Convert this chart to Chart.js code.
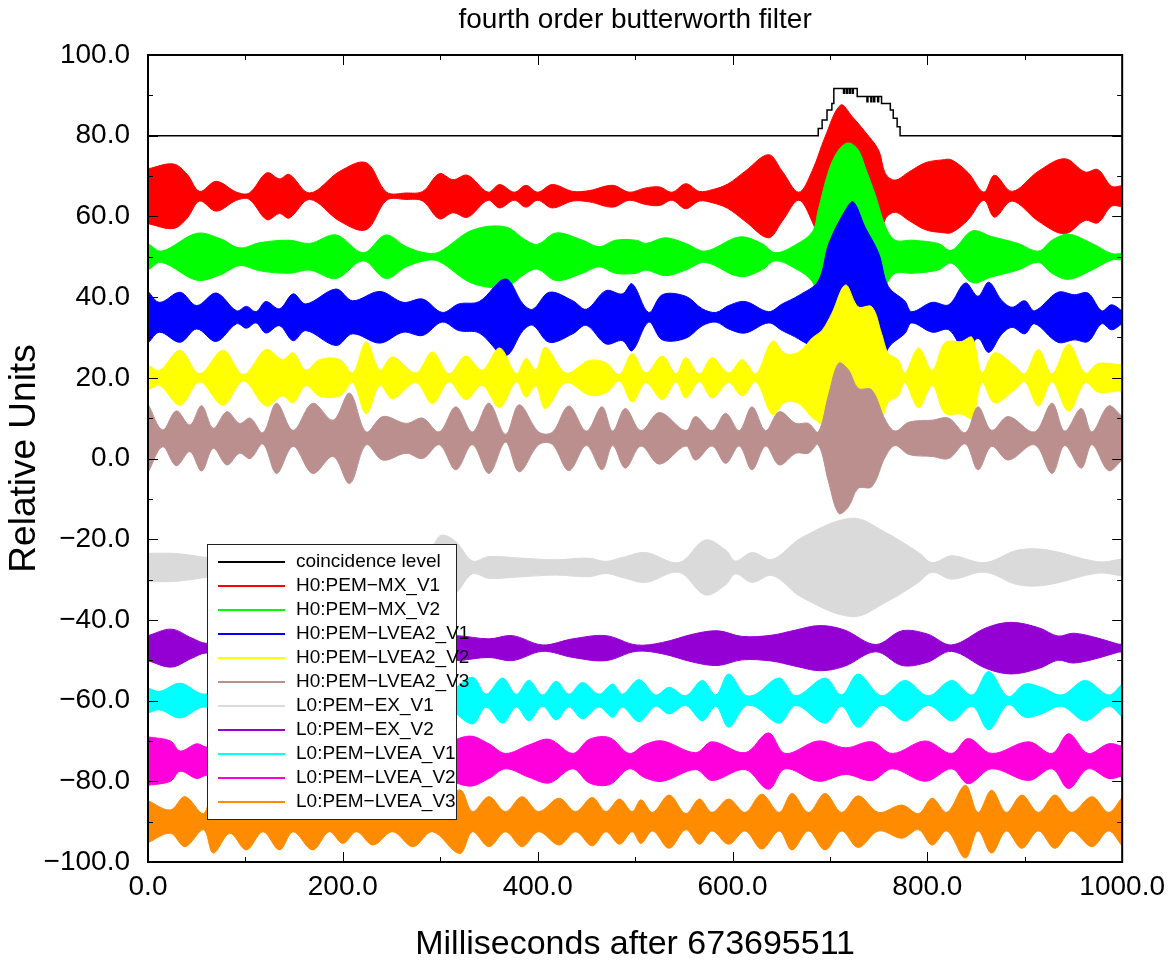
<!DOCTYPE html>
<html>
<head>
<meta charset="utf-8">
<title>fourth order butterworth filter</title>
<script src="https://cdn.jsdelivr.net/npm/chart.js"></script>
<style>
  body { margin: 0; background: #fff; }
  #chart-box { width: 1173px; height: 968px; }
</style>
</head>
<body>
<div id="chart-box"><canvas id="chart" width="1173" height="968"></canvas></div>
<script>
// channels, in legend order
const channelNames = [
  'H0:PEM\u2212MX_V1', 'H0:PEM\u2212MX_V2', 'H0:PEM\u2212LVEA2_V1', 'H0:PEM\u2212LVEA2_V2', 'H0:PEM\u2212LVEA2_V3',
  'L0:PEM\u2212EX_V1', 'L0:PEM\u2212EX_V2', 'L0:PEM\u2212LVEA_V1', 'L0:PEM\u2212LVEA_V2', 'L0:PEM\u2212LVEA_V3'
];
// each trace is shifted to its own baseline (relative units)
const channelOffsets = [65, 50, 35, 20, 5, -27, -47, -60, -75, -90];

// envelope half-width of each trace: [ms, relative units]
const h0MxV1 = [[0,6.8],[26,8.0],[40,5.5],[53,1.2],[70,3.7],[91,1.0],[104,0.8],[122,5.8],[135,4.3],[145,5.4],[166,0.8],[197,6.2],[224,8.3],[245,1.0],[265,0.8],[282,1.2],[299,5.6],[313,4.1],[328,5.2],[349,1.0],[361,2.9],[376,1.0],[388,2.7],[400,1.0],[415,2.9],[436,1.2],[453,1.4],[477,2.7],[494,1.0],[510,2.0],[525,2.3],[538,1.0],[552,3.1],[566,1.2],[579,1.6],[595,3.0],[613,6.2],[637,10.3],[651,6.2],[668,1.0],[682,6.4],[695,14.7],[711,22.6],[723,19.7],[736,16.0],[750,11.4],[757,5.6],[767,4.0],[781,6.0],[798,8.3],[815,9.0],[825,9.0],[842,5.8],[858,1.0],[869,5.2],[887,1.2],[914,6.2],[941,9.3],[962,6.0],[975,6.6],[989,2.5],[1000,2.6]];
const h0MxV2 = [[0,3.3],[14,1.4],[50,5.8],[74,4.5],[94,2.2],[115,3.5],[145,4.1],[166,3.3],[193,5.4],[221,1.0],[244,5.4],[265,2.5],[286,0.9],[299,1.2],[333,6.6],[367,7.4],[388,4.1],[400,3.1],[419,5.9],[446,4.1],[463,2.5],[480,4.1],[501,4.1],[511,3.3],[531,4.7],[552,3.3],[572,1.4],[607,4.9],[630,3.3],[644,1.0],[665,3.0],[682,6.2],[688,11.6],[699,21.5],[709,26.5],[719,28.2],[729,26.5],[736,22.3],[747,15.0],[757,7.5],[767,4.1],[784,4.1],[811,3.3],[825,1.6],[846,6.4],[866,5.0],[893,3.3],[914,1.4],[928,4.1],[945,5.6],[969,3.3],[989,0.8],[1000,0.8]];
const h0Lvea2V1 = [[0,6.4],[12,3.7],[33,6.2],[50,2.9],[70,6.0],[91,1.6],[101,2.7],[111,1.4],[121,3.9],[135,2.1],[149,5.8],[162,3.3],[193,7.0],[210,4.1],[238,6.4],[262,3.7],[282,4.5],[302,1.2],[319,3.3],[340,3.9],[367,9.5],[385,3.3],[395,2.0],[412,6.2],[436,4.1],[450,2.0],[470,6.6],[487,5.8],[497,8.3],[514,1.2],[528,5.6],[552,5.2],[569,2.1],[583,1.2],[596,2.9],[613,3.9],[637,1.4],[651,3.3],[668,5.4],[688,9.0],[699,18.4],[716,26.6],[724,28.6],[736,22.4],[750,15.9],[760,7.6],[777,4.0],[784,1.4],[805,3.7],[822,3.1],[839,8.5],[852,5.2],[863,8.7],[876,4.3],[887,2.5],[900,4.1],[910,1.6],[934,6.2],[951,5.6],[965,6.0],[979,1.6],[989,3.1],[1000,1.6]];
const h0Lvea2V2 = [[0,3.1],[12,1.9],[33,6.8],[53,1.0],[77,6.8],[98,0.8],[121,7.0],[138,4.5],[149,6.2],[162,1.9],[176,4.5],[197,4.5],[210,1.2],[224,8.9],[238,1.9],[251,5.2],[275,1.2],[292,6.4],[309,1.0],[326,5.4],[343,1.9],[361,7.4],[378,1.0],[388,4.8],[398,2.0],[408,7.6],[429,1.2],[453,4.3],[470,3.7],[484,0.8],[497,6.0],[511,1.2],[528,5.4],[542,1.0],[552,5.0],[566,0.9],[579,5.0],[596,1.2],[610,4.5],[624,1.0],[641,9.1],[654,6.0],[668,6.4],[682,9.9],[692,11.8],[702,16.0],[716,23.0],[729,17.6],[743,17.6],[753,11.0],[760,6.0],[770,4.5],[777,1.2],[791,7.4],[805,1.9],[818,8.7],[835,9.0],[846,10.0],[856,1.2],[869,6.2],[890,2.9],[900,1.0],[914,7.0],[928,1.0],[945,8.3],[962,1.2],[975,3.5],[996,3.3],[1000,3.3]];
const h0Lvea2V3 = [[0,8.5],[15,2.1],[29,6.8],[43,3.3],[55,8.1],[67,2.5],[81,6.6],[94,3.7],[105,5.0],[118,1.4],[132,8.7],[149,2.0],[169,8.7],[190,4.5],[207,11.2],[224,1.6],[241,5.4],[265,3.7],[282,5.0],[299,1.6],[316,7.8],[333,1.6],[350,8.7],[367,1.0],[381,8.3],[401,1.6],[415,1.5],[432,8.0],[450,1.8],[466,7.8],[477,1.8],[490,7.4],[506,1.9],[525,6.4],[552,1.9],[562,5.4],[579,1.9],[593,6.2],[607,1.9],[620,7.8],[634,1.9],[648,6.6],[665,3.7],[678,3.7],[688,1.6],[699,11.2],[709,18.6],[719,17.0],[729,12.4],[743,12.0],[757,4.5],[767,1.8],[781,4.0],[805,4.5],[822,5.0],[839,1.4],[852,7.8],[866,2.0],[883,5.4],[910,1.6],[928,8.7],[941,1.8],[958,7.4],[969,1.6],[986,8.0],[1000,5.4]];
const l0ExV1 = [[0,3.5],[26,3.5],[45,3.0],[60,2.5],[100,3.0],[150,2.5],[200,3.0],[250,2.5],[290,5.0],[301,8.0],[316,6.4],[333,1.6],[350,2.7],[384,2.3],[418,1.9],[453,2.3],[470,1.5],[487,2.5],[511,3.7],[545,1.2],[572,6.8],[593,4.3],[603,1.6],[620,3.7],[641,2.0],[671,7.4],[723,12.2],[757,8.7],[791,3.7],[805,1.2],[825,2.9],[859,1.2],[893,4.3],[924,4.3],[975,1.4],[1000,2.1]];
const l0ExV2 = [[0,3.1],[24,4.7],[45,2.5],[60,1.2],[100,2.5],[150,3.0],[200,2.0],[250,3.0],[300,2.5],[316,3.1],[350,2.3],[374,3.1],[405,0.8],[436,2.3],[470,3.1],[501,0.8],[528,1.4],[560,3.5],[585,4.3],[610,2.9],[640,3.2],[665,4.5],[690,5.6],[715,4.5],[747,0.9],[774,4.3],[800,3.5],[825,0.8],[860,5.0],[886,6.4],[915,5.0],[934,3.0],[950,3.7],[975,2.5],[996,1.0],[1000,1.0]];
const l0LveaV1 = [[0,3.1],[12,2.3],[33,4.3],[57,1.6],[80,3.5],[105,1.6],[130,3.5],[155,1.6],[180,3.5],[205,1.6],[230,3.5],[255,1.6],[280,3.5],[305,1.6],[333,5.8],[347,1.6],[364,5.6],[378,1.6],[391,5.0],[405,1.4],[419,4.8],[432,1.6],[446,4.5],[463,1.6],[477,4.1],[487,1.6],[504,5.2],[521,1.4],[535,3.3],[552,1.2],[569,5.0],[583,1.4],[596,6.6],[613,1.4],[624,1.6],[648,5.6],[665,1.2],[695,5.6],[712,1.4],[729,6.6],[753,1.2],[777,5.0],[801,1.2],[825,5.0],[846,1.4],[863,7.2],[883,1.0],[900,4.1],[917,3.3],[938,1.4],[962,5.0],[986,1.4],[1000,4.1]];
const l0LveaV2 = [[0,6.0],[23,5.0],[33,2.5],[50,4.3],[60,3.5],[100,4.0],[150,3.0],[200,4.0],[250,3.0],[300,4.0],[330,6.2],[350,4.3],[367,1.9],[391,4.0],[412,5.4],[436,1.9],[453,5.4],[474,5.8],[494,1.9],[510,4.1],[528,5.0],[562,2.1],[579,4.8],[613,2.1],[637,7.0],[654,1.9],[688,5.0],[716,3.3],[743,4.8],[764,1.9],[798,5.0],[825,1.9],[842,5.6],[866,1.9],[904,4.8],[928,1.9],[945,6.8],[965,1.9],[986,4.3],[1000,3.7]];
const l0LveaV3 = [[0,5.2],[23,2.9],[38,6.2],[57,2.0],[67,7.8],[84,2.9],[101,7.0],[118,2.5],[135,7.0],[149,2.5],[169,7.0],[186,2.5],[200,5.4],[214,2.5],[231,5.8],[251,2.5],[272,6.2],[292,2.5],[320,7.9],[333,2.5],[350,6.2],[367,2.5],[384,6.2],[401,2.5],[422,5.8],[439,2.5],[456,6.0],[470,2.5],[484,5.6],[497,2.5],[506,5.4],[518,2.3],[535,6.6],[552,2.0],[566,5.6],[579,2.3],[596,5.6],[613,2.3],[630,6.8],[648,2.3],[661,7.0],[678,2.3],[695,7.0],[712,2.3],[729,6.4],[750,2.3],[774,4.1],[791,2.0],[805,5.8],[820,2.3],[839,9.0],[852,2.3],[866,7.8],[881,2.3],[897,6.6],[914,2.3],[931,6.6],[948,2.3],[969,6.2],[986,2.3],[1000,6.0]];

// coincidence level (step line): [ms, level]
const coincidenceLevel = [[0,80],[688,81.8],[692,83.9],[697,86.4],[702,88.0],[704,91.7],[714,90.5],[715,91.7],[717,90.5],[718,91.7],[720,90.5],[721,91.7],[723,90.5],[724,91.7],[728,89.7],[738,88.4],[739,89.7],[742,88.4],[743,89.7],[745,88.4],[746,89.7],[749,88.4],[750,89.7],[753,88.0],[762,86.4],[765,84.3],[769,82.2],[772,80.0],[1000,80]];

const xMajorTicks = [0, 200, 400, 600, 800, 1000];
const xMinorTicks = [100, 300, 500, 700, 900];
const xTickLabels = ['0.0', '200.0', '400.0', '600.0', '800.0', '1000.0'];
const yMajorTicks = [-100, -80, -60, -40, -20, 0, 20, 40, 60, 80, 100];
const yMinorTicks = [-90, -70, -50, -30, -10, 10, 30, 50, 70, 90];
const yTickLabels = ['\u2212100.0', '\u221280.0', '\u221260.0', '\u221240.0', '\u221220.0', '0.0', '20.0', '40.0', '60.0', '80.0', '100.0'];

const channelColors = ['#ff0000', '#00ff00', '#0000ff', '#ffff00', '#bc8f8f', '#dadada', '#9400d3', '#00ffff', '#ff00dd', '#ff8c00'];
const FONT = "'Liberation Sans', Arial, Helvetica, sans-serif";

const envelopes = [h0MxV1, h0MxV2, h0Lvea2V1, h0Lvea2V2, h0Lvea2V3, l0ExV1, l0ExV2, l0LveaV1, l0LveaV2, l0LveaV3];

const datasets = [{
  label: 'coincidence level',
  data: coincidenceLevel.map(([x, y]) => ({ x, y })),
  borderColor: '#000',
  borderWidth: 1.5,
  stepped: true,
  pointRadius: 0,
  fill: false,
  order: 0
}];

// each trace is a band between its upper and lower envelope;
// later channels are drawn on top of earlier ones
envelopes.forEach((env, i) => {
  const color = channelColors[i];
  const order = envelopes.length - i;
  datasets.push({
    label: channelNames[i],
    data: env.map(([x, a]) => ({ x, y: channelOffsets[i] + a })),
    borderColor: color,
    backgroundColor: color,
    borderWidth: 1,
    pointRadius: 0,
    tension: 0.35,
    fill: '+1',
    order: order
  });
  datasets.push({
    label: channelNames[i] + ' (lower)',
    data: env.map(([x, a]) => ({ x, y: channelOffsets[i] - a })),
    borderColor: color,
    borderWidth: 1,
    pointRadius: 0,
    tension: 0.35,
    fill: false,
    order: order
  });
});

// frame and inward tick marks on all four sides
const frameTicks = {
  id: 'frameTicks',
  afterDatasetsDraw(chart) {
    const { ctx, chartArea: a, scales: { x, y } } = chart;
    ctx.save();
    ctx.strokeStyle = '#000';
    ctx.lineWidth = 1;
    ctx.beginPath();
    const xTick = (v, len) => {
      const px = Math.round(x.getPixelForValue(v)) + 0.5;
      ctx.moveTo(px, a.bottom); ctx.lineTo(px, a.bottom - len);
      ctx.moveTo(px, a.top); ctx.lineTo(px, a.top + len);
    };
    const yTick = (v, len) => {
      const py = Math.round(y.getPixelForValue(v)) + 0.5;
      ctx.moveTo(a.left, py); ctx.lineTo(a.left + len, py);
      ctx.moveTo(a.right, py); ctx.lineTo(a.right - len, py);
    };
    xMajorTicks.forEach(v => xTick(v, 10));
    xMinorTicks.forEach(v => xTick(v, 5));
    yMajorTicks.forEach(v => yTick(v, 10));
    yMinorTicks.forEach(v => yTick(v, 5));
    ctx.stroke();
    ctx.lineWidth = 2;
    ctx.strokeRect(a.left, a.top, a.right - a.left, a.bottom - a.top);
    ctx.restore();
  }
};

// boxed legend inside the plot area
const boxLegend = {
  id: 'boxLegend',
  afterDraw(chart) {
    const { ctx, chartArea: a } = chart;
    const left = a.left + 59, top = a.top + 489, w = 249, h = 275;
    ctx.save();
    ctx.fillStyle = '#fff';
    ctx.fillRect(left, top, w, h);
    ctx.strokeStyle = '#222';
    ctx.lineWidth = 1;
    ctx.strokeRect(left + 0.5, top + 0.5, w, h);
    const entries = chart.data.datasets.filter(d => !d.label.endsWith('(lower)'));
    ctx.font = '19px ' + FONT;
    ctx.textBaseline = 'middle';
    ctx.textAlign = 'left';
    entries.forEach((d, i) => {
      const yy = top + 18 + i * 24;
      ctx.strokeStyle = d.borderColor;
      ctx.lineWidth = 2;
      ctx.beginPath();
      ctx.moveTo(left + 11, yy);
      ctx.lineTo(left + 78, yy);
      ctx.stroke();
      ctx.fillStyle = '#000';
      ctx.fillText(d.label, left + 89, yy);
    });
    ctx.restore();
  }
};

Chart.defaults.font.family = FONT;
Chart.defaults.color = '#000';

new Chart(document.getElementById('chart'), {
  type: 'line',
  data: { datasets },
  plugins: [frameTicks, boxLegend],
  options: {
    responsive: false,
    animation: false,
    events: [],
    layout: { padding: { left: 0, right: 49, top: 0, bottom: 0 } },
    plugins: {
      legend: { display: false },
      tooltip: { enabled: false },
      title: {
        display: true,
        text: 'fourth order butterworth filter',
        fullSize: false,
        color: '#000',
        font: { size: 28, weight: 'normal', lineHeight: 1.2 },
        padding: { top: 3, bottom: 18.4 }
      }
    },
    scales: {
      x: {
        type: 'linear',
        min: 0,
        max: 1000,
        afterBuildTicks: s => { s.ticks = xMajorTicks.map(v => ({ value: v })); },
        afterFit: s => { s.height = 106; },
        grid: { display: false, drawTicks: false },
        border: { display: false },
        ticks: {
          padding: 8,
          maxRotation: 0,
          autoSkip: false,
          color: '#000',
          font: { size: 28 },
          callback: v => xTickLabels[xMajorTicks.indexOf(v)]
        },
        title: {
          display: true,
          text: 'Milliseconds after 673695511',
          color: '#000',
          font: { size: 34, lineHeight: 1.2 },
          padding: { top: 0, bottom: 3 }
        }
      },
      y: {
        type: 'linear',
        min: -100,
        max: 100,
        afterBuildTicks: s => { s.ticks = yMajorTicks.map(v => ({ value: v })); },
        afterFit: s => { s.width = 148; },
        grid: { display: false, drawTicks: false },
        border: { display: false },
        ticks: {
          padding: 18,
          color: '#000',
          font: { size: 28 },
          callback: v => yTickLabels[yMajorTicks.indexOf(v)]
        },
        title: {
          display: true,
          text: 'Relative Units',
          color: '#000',
          font: { size: 37, lineHeight: 1.2 },
          padding: { top: 3, bottom: 0 }
        }
      }
    }
  }
});
</script>
</body>
</html>
